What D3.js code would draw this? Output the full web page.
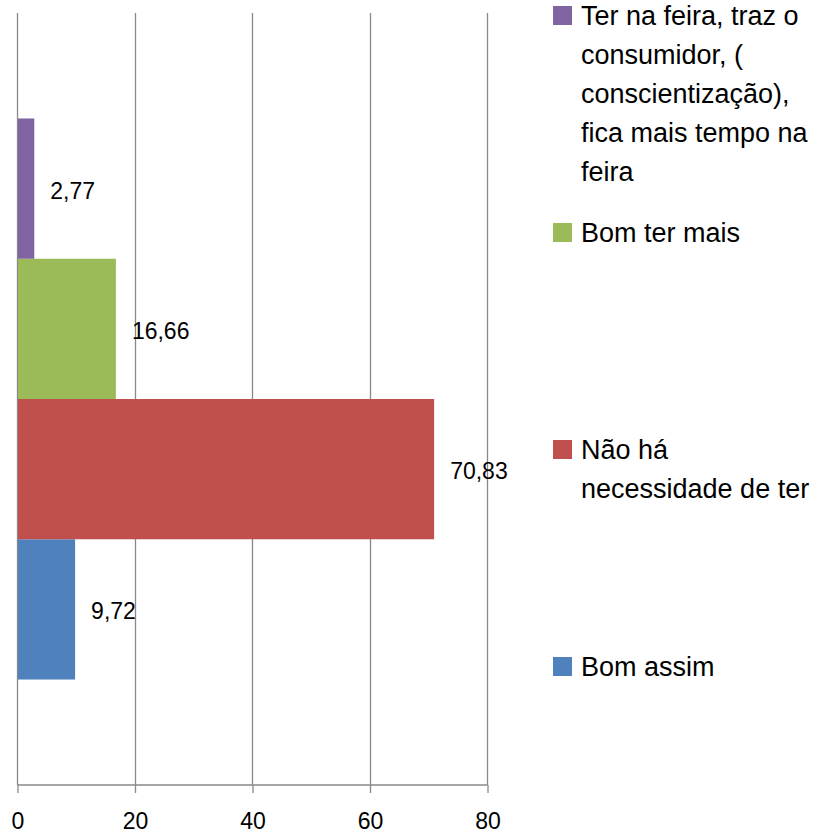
<!DOCTYPE html>
<html>
<head>
<meta charset="utf-8">
<script src="https://cdn.jsdelivr.net/npm/d3@7"></script>
<style>
  body { margin: 0; background: #fff; }
  text { font-family: "Liberation Sans", Arial, sans-serif; fill: #000; }
</style>
</head>
<body>
<div id="chart"></div>
<script>
// series, bottom to top as drawn by the bars
const seriesNames = [
  'Bom assim',
  'Não há necessidade de ter',
  'Bom ter mais',
  'Ter na feira, traz o consumidor, ( conscientização), fica mais tempo na feira'
];
// legend text split the way the original legend breaks it
const legendLines = [
  ['Bom assim'],
  ['Não há', 'necessidade de ter'],
  ['Bom ter mais'],
  ['Ter na feira, traz o', 'consumidor, (', 'conscientização),', 'fica mais tempo na', 'feira']
];
const seriesValues = [9.72, 70.83, 16.66, 2.77];
const seriesLabels = ['9,72', '70,83', '16,66', '2,77'];
const seriesColors = ['#4F81BD', '#C0504D', '#9BBB59', '#8064A2'];
const xTicks = [0, 20, 40, 60, 80];

const width = 829, height = 833;
const plot = { left: 17, right: 487, top: 13, bottom: 785 };

const svg = d3.select('#chart').append('svg')
  .attr('width', width)
  .attr('height', height);

const x = d3.scaleLinear().domain([0, 80]).range([plot.left, plot.right]);

// one category, split into four sub-bands (gap width 150%)
const y = d3.scaleBand().domain(['cat']).range([plot.bottom, plot.top])
  .paddingInner(0).paddingOuter(0.188);
const ySub = d3.scaleBand().domain(d3.range(seriesValues.length))
  .range([y('cat') + y.bandwidth(), y('cat')]);

// gridlines
svg.append('g')
  .selectAll('line')
  .data(xTicks)
  .enter().append('line')
  .attr('x1', d => Math.round(x(d)) + 0.5)
  .attr('x2', d => Math.round(x(d)) + 0.5)
  .attr('y1', plot.top)
  .attr('y2', plot.bottom)
  .attr('stroke', '#898989')
  .attr('stroke-width', 1.3);

// bars
svg.append('g')
  .selectAll('rect')
  .data(seriesValues)
  .enter().append('rect')
  .attr('x', x(0) + 1)
  .attr('y', (d, i) => ySub(i))
  .attr('width', d => x(d) - x(0))
  .attr('height', ySub.bandwidth())
  .attr('fill', (d, i) => seriesColors[i]);

// data labels
svg.append('g')
  .selectAll('text')
  .data(seriesValues)
  .enter().append('text')
  .attr('x', d => x(d) + 17)
  .attr('y', (d, i) => ySub(i) + ySub.bandwidth() / 2 + 2)
  .attr('dy', '0.35em')
  .style('font-size', '23px')
  .text((d, i) => seriesLabels[i]);

// x axis
const xAxis = d3.axisBottom(x).tickValues(xTicks).tickSize(8).tickPadding(20);
const axisG = svg.append('g')
  .attr('transform', `translate(0.5, ${plot.bottom})`)
  .call(xAxis);
axisG.select('.domain').attr('stroke', '#898989').attr('stroke-width', 1.3)
  .attr('d', `M${plot.left},0H${plot.right}`);
axisG.selectAll('.tick line').attr('stroke', '#898989').attr('stroke-width', 1.3);
axisG.selectAll('.tick text')
  .style('font-size', '23px')
  .style('font-family', '"Liberation Sans", Arial, sans-serif')
  .attr('fill', '#000');

// legend, reversed so the top bar comes first
const legendOrder = d3.range(seriesNames.length).reverse();
const lineH = 39;
const legend = svg.append('g')
  .selectAll('g')
  .data(legendOrder)
  .enter().append('g')
  .attr('transform', (si, k) => `translate(553, ${25 + k * 217})`);

legend.append('rect')
  .attr('x', 0)
  .attr('y', -19)
  .attr('width', 19)
  .attr('height', 19)
  .attr('fill', si => seriesColors[si]);

legend.append('text')
  .style('font-size', '27px')
  .selectAll('tspan')
  .data(si => legendLines[si])
  .enter().append('tspan')
  .attr('x', 28)
  .attr('y', (d, i) => i * lineH)
  .text(d => d);
</script>
</body>
</html>
